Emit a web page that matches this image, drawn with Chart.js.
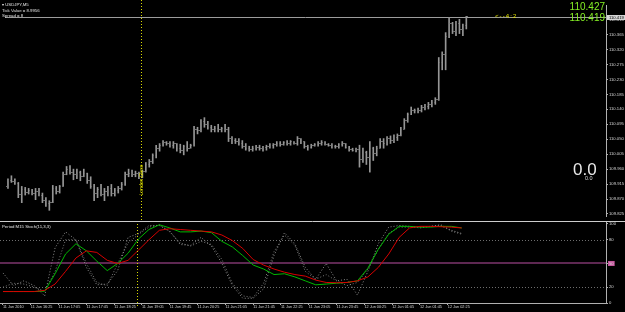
<!DOCTYPE html>
<html>
<head>
<meta charset="utf-8">
<script src="https://cdn.jsdelivr.net/npm/chart.js@4.4.1/dist/chart.umd.min.js"></script>
<style>
html, body { margin: 0; padding: 0; background: #000; }
#wrap { position: relative; width: 625px; height: 312px; overflow: hidden; background: #000; font-family: "Liberation Sans", Arial, sans-serif; }
canvas { position: absolute; left: 0; }
#main { top: 0; }
#sub { top: 221px; }
.t { position: absolute; white-space: nowrap; color: #e2e2e2; line-height: 1; }
</style>
</head>
<body>
<div id="wrap">
  <canvas id="main" width="625" height="221"></canvas>
  <canvas id="sub" width="625" height="91"></canvas>
  <div class="t" style="left:2px;top:2.5px;font-size:4.3px">&#9662; USDJPY,M5</div>
  <div class="t" style="left:2px;top:8.5px;font-size:4.3px">Tick Value = 8.9956</div>
  <div class="t" style="left:2px;top:14px;font-size:4.3px">Spread = 8</div>
  <div class="t" style="right:20px;top:2px;font-size:10px;color:#84ee24">110.427</div>
  <div class="t" style="right:20px;top:13px;font-size:10px;color:#84ee24">110.419</div>
  <div class="t" style="left:495px;top:12.5px;font-size:6px;letter-spacing:1.1px;color:#e0e000">&lt;--4:2</div>
  <div class="t" style="left:573px;top:160.5px;font-size:17px;color:#e8e8e8">0.0</div>
  <div class="t" style="left:585px;top:175.5px;font-size:5.5px;color:#d8d8d8">0.0</div>
  <div class="t" style="left:140.5px;top:180px;font-size:5px;color:#e0e000;transform:translate(-50%,-50%) rotate(-90deg)">London Close</div>
  <div class="t" style="left:2px;top:224.5px;font-size:4.3px">Period M15 Stoch(11,3,3)</div>
</div>
<script>
// USDJPY M5 bars, bar index 0 = 11 Jun 15:45
const barOpen = [109.908,109.925,109.922,109.917,109.885,109.899,109.891,109.897,109.888,109.894,
  109.882,109.865,109.856,109.859,109.902,109.894,109.908,109.945,109.960,109.951,
  109.943,109.951,109.937,109.948,109.925,109.908,109.888,109.899,109.885,109.894,
  109.902,109.888,109.897,109.902,109.914,109.945,109.948,109.943,109.948,109.940,
  109.954,109.974,109.983,110.000,110.023,110.032,110.040,110.037,110.032,110.037,
  110.023,110.017,110.029,110.023,110.032,110.080,110.075,110.104,110.095,110.086,
  110.080,110.083,110.078,110.083,110.080,110.052,110.046,110.043,110.037,110.029,
  110.023,110.020,110.023,110.026,110.023,110.026,110.029,110.032,110.035,110.037,
  110.035,110.040,110.037,110.043,110.037,110.052,110.043,110.029,110.026,110.032,
  110.035,110.037,110.040,110.035,110.032,110.029,110.029,110.035,110.037,110.026,
  110.020,110.017,110.020,109.989,110.009,109.994,110.023,110.006,110.023,110.043,
  110.037,110.052,110.046,110.055,110.060,110.080,110.106,110.124,110.138,110.135,
  110.138,110.147,110.150,110.155,110.161,110.170,110.282,110.305,110.359,110.397,
  110.374,110.397,110.379,110.391];
const barHigh = [109.931,109.940,109.931,109.920,109.908,109.905,109.902,109.899,109.902,109.902,
  109.888,109.874,109.865,109.911,109.908,109.911,109.951,109.968,109.971,109.960,
  109.960,109.954,109.960,109.948,109.937,109.914,109.905,109.914,109.902,109.908,
  109.914,109.902,109.908,109.920,109.951,109.960,109.957,109.954,109.951,109.957,
  109.980,109.989,110.006,110.032,110.037,110.046,110.043,110.043,110.043,110.037,
  110.035,110.032,110.043,110.035,110.089,110.086,110.109,110.115,110.104,110.092,
  110.089,110.095,110.086,110.095,110.086,110.058,110.052,110.052,110.046,110.037,
  110.029,110.029,110.032,110.032,110.029,110.032,110.037,110.037,110.043,110.043,
  110.043,110.046,110.046,110.043,110.058,110.052,110.043,110.032,110.035,110.037,
  110.043,110.046,110.043,110.037,110.037,110.032,110.037,110.043,110.037,110.029,
  110.023,110.023,110.032,110.023,110.014,110.043,110.026,110.029,110.052,110.052,
  110.058,110.060,110.063,110.066,110.086,110.112,110.129,110.147,110.141,110.144,
  110.152,110.155,110.161,110.167,110.175,110.296,110.313,110.371,110.417,110.402,
  110.405,110.411,110.397,110.420];
const barLow = [109.902,109.920,109.914,109.874,109.859,109.882,109.885,109.882,109.868,109.879,
  109.859,109.848,109.836,109.859,109.885,109.888,109.908,109.943,109.945,109.928,
  109.931,109.925,109.937,109.917,109.902,109.865,109.874,109.879,109.865,109.879,
  109.879,109.879,109.888,109.897,109.911,109.937,109.937,109.937,109.931,109.934,
  109.951,109.966,109.977,109.994,110.014,110.029,110.032,110.026,110.023,110.014,
  110.009,110.003,110.014,110.023,110.029,110.066,110.072,110.086,110.080,110.072,
  110.072,110.072,110.072,110.072,110.043,110.037,110.037,110.032,110.023,110.017,
  110.014,110.014,110.017,110.017,110.014,110.017,110.023,110.023,110.029,110.029,
  110.032,110.032,110.032,110.035,110.032,110.037,110.023,110.017,110.023,110.029,
  110.029,110.032,110.032,110.029,110.023,110.023,110.023,110.029,110.023,110.014,
  110.014,110.012,109.966,109.980,109.974,109.951,109.986,110.000,110.023,110.023,
  110.032,110.037,110.040,110.046,110.060,110.080,110.101,110.124,110.129,110.129,
  110.132,110.138,110.141,110.147,110.155,110.167,110.259,110.259,110.356,110.368,
  110.362,110.368,110.362,110.382];
const barClose = [109.925,109.922,109.917,109.885,109.899,109.891,109.897,109.888,109.894,109.882,
  109.865,109.856,109.859,109.902,109.894,109.908,109.945,109.960,109.951,109.943,
  109.951,109.937,109.948,109.925,109.908,109.888,109.899,109.885,109.894,109.902,
  109.888,109.897,109.902,109.914,109.945,109.948,109.943,109.948,109.940,109.954,
  109.974,109.983,110.000,110.023,110.032,110.040,110.037,110.032,110.037,110.023,
  110.017,110.029,110.023,110.032,110.080,110.075,110.104,110.095,110.086,110.080,
  110.083,110.078,110.083,110.080,110.052,110.046,110.043,110.037,110.029,110.023,
  110.020,110.023,110.026,110.023,110.026,110.029,110.032,110.035,110.037,110.035,
  110.040,110.037,110.043,110.037,110.052,110.043,110.029,110.026,110.032,110.035,
  110.037,110.040,110.035,110.032,110.029,110.029,110.035,110.037,110.026,110.020,
  110.017,110.020,109.989,110.009,109.994,110.023,110.006,110.023,110.043,110.037,
  110.052,110.046,110.055,110.060,110.080,110.106,110.124,110.138,110.135,110.138,
  110.147,110.150,110.155,110.161,110.170,110.282,110.305,110.359,110.397,110.374,
  110.397,110.379,110.391,110.420];

const priceTicks = [110.410,110.365,110.320,110.275,110.230,110.185,110.140,110.095,110.050,110.005,109.960,109.915,109.870,109.825];
const bidPrice = 110.419;
const londonCloseIdx = 38.6;

// stochastic, sampled every 3 bars
const stochIdx = [0,3,6,9,12,15,18,21,24,27,30,33,36,39,42,45,48,51,54,57,60,63,66,69,72,75,78,81,84,87,90,93,96,99,102,105,108,111,114,117,120,123,126,129,132];
const stochMain = [14.5,14.5,14.5,14.5,15,37,62,75,66,53,41,50,63,81,93,99,95,90,90,91,89,78,71,60,48,43,36,37,33,28,23,24,25,26,28,44,68,87,97,97,96,96,97,97,95];
const stochSignal = [14.5,14.5,14.5,14.5,16,24,40,57,66,64,54,50,54,67,80,92,94,93,92,91,90,86,79,69,55,48,43,39,36,34,29,26,25.6,26,28,33,45,62,83,95,97,97,96.5,96,95];
const fastMain = [38,22,28,22,9,70,90,80,45,23,24,41,83,88,98,98,91,74,73,83,72,50,22,6,6,18,60,89,75,45,30,50,28,30,10,40,75,96,98,97,95,97,99,92,88];
const fastSignal = [20,25,24,20,15,40,80,80,50,26,22,50,76,87,96,99,90,76,72,78,74,55,25,9,7,25,65,86,73,40,30,36,28,22,26,43,68,88,96,96,96,97,98,91,87];
const stochTicks = [100,80,50,20,0];
const timeLabels = ["11 Jun 2010","11 Jun 16:25","11 Jun 17:05","11 Jun 17:45","11 Jun 18:25","11 Jun 19:05",
  "11 Jun 19:45","11 Jun 20:25","11 Jun 21:05","11 Jun 21:45","11 Jun 22:25","11 Jun 23:05",
  "11 Jun 23:45","12 Jun 00:25","12 Jun 01:05","12 Jun 01:45","12 Jun 02:25"];
const barsPerLabel = 8;

const xMin = -0.863, xMax = 173.53;
const barColor = '#969696';
const tickColor = '#6e6e6e';
const axisColor = '#b0b0b0';
const labelFont = { family: '"Liberation Sans", Arial, sans-serif', size: 4.2 };

function tickImg(side) {
  const c = document.createElement('canvas');
  c.width = 3; c.height = 1;
  const g = c.getContext('2d');
  g.fillStyle = tickColor;
  g.fillRect(side === 'left' ? 0 : 2, 0, 1, 1);
  return c;
}

function londonLine(chart, top, bottom) {
  const { ctx, scales: { x } } = chart;
  const lx = Math.round(x.getPixelForValue(londonCloseIdx)) + 0.5;
  ctx.save();
  ctx.strokeStyle = '#d8d800';
  ctx.lineWidth = 1;
  ctx.setLineDash([1, 2]);
  ctx.beginPath(); ctx.moveTo(lx, top); ctx.lineTo(lx, bottom); ctx.stroke();
  ctx.restore();
}

const mainDecor = {
  id: 'mainDecor',
  beforeDatasetsDraw(chart) {
    const { ctx, chartArea: a, scales: { y } } = chart;
    const by = Math.round(y.getPixelForValue(bidPrice)) + 0.5;
    ctx.save();
    ctx.strokeStyle = '#9c9c9c';
    ctx.lineWidth = 1;
    ctx.beginPath(); ctx.moveTo(a.left, by); ctx.lineTo(a.right, by); ctx.stroke();
    ctx.restore();
  },
  afterDraw(chart) {
    const { ctx, chartArea: a, scales: { y } } = chart;
    londonLine(chart, 0, chart.height);
    const by = Math.round(y.getPixelForValue(bidPrice));
    ctx.save();
    ctx.fillStyle = '#d4d4d4';
    ctx.fillRect(a.right + 1, by - 2, 18, 5);
    ctx.fillStyle = '#000';
    ctx.font = '4.2px "Liberation Sans", Arial, sans-serif';
    ctx.textBaseline = 'middle';
    ctx.fillText(bidPrice.toFixed(3), a.right + 3, by + 0.5);
    ctx.restore();
  }
};

const subDecor = {
  id: 'subDecor',
  beforeDatasetsDraw(chart) {
    const { ctx, chartArea: a, scales: { y } } = chart;
    ctx.save();
    ctx.strokeStyle = '#6e6e6e';
    ctx.lineWidth = 1;
    ctx.setLineDash([1, 2]);
    [80, 20].forEach(v => {
      const ly = Math.round(y.getPixelForValue(v)) + 0.5;
      ctx.beginPath(); ctx.moveTo(a.left, ly); ctx.lineTo(a.right, ly); ctx.stroke();
    });
    ctx.setLineDash([]);
    ctx.strokeStyle = '#5e2852';
    ctx.lineWidth = 2;
    const my = Math.round(y.getPixelForValue(50));
    ctx.beginPath(); ctx.moveTo(a.left, my); ctx.lineTo(a.right, my); ctx.stroke();
    ctx.restore();
  },
  afterDraw(chart) {
    const { ctx, chartArea: a } = chart;
    londonLine(chart, 0, a.bottom + 3);
    ctx.save();
    ctx.strokeStyle = '#cccccc';
    ctx.lineWidth = 1;
    ctx.beginPath(); ctx.moveTo(0, 0.5); ctx.lineTo(chart.width, 0.5); ctx.stroke();
    ctx.restore();
  }
};

const ohlcBars = barHigh.map((h, i) => ({ x: i, y: [barLow[i], h] }));
const opens = barOpen.map((v, i) => ({ x: i, y: v }));
const closes = barClose.map((v, i) => ({ x: i, y: v }));

new Chart(document.getElementById('main'), {
  type: 'bar',
  data: {
    datasets: [
      { type: 'line', data: opens, showLine: false, pointStyle: tickImg('left'), pointRadius: 1 },
      { type: 'line', data: closes, showLine: false, pointStyle: tickImg('right'), pointRadius: 1 },
      { type: 'bar', data: ohlcBars, backgroundColor: barColor, barThickness: 1, grouped: false }
    ]
  },
  options: {
    responsive: false,
    animation: false,
    devicePixelRatio: 1,
    events: [],
    layout: { padding: 0 },
    plugins: { legend: { display: false }, tooltip: { enabled: false } },
    scales: {
      x: { type: 'linear', min: xMin, max: xMax, offset: false, display: false },
      y: {
        position: 'right',
        min: 109.8189, max: 110.4541,
        afterBuildTicks: s => { s.ticks = priceTicks.map(v => ({ value: v })); },
        afterFit: s => { s.width = 19; s.paddingTop = 0; s.paddingBottom = 0; },
        ticks: { color: '#d6d6d6', font: labelFont, padding: 1, autoSkip: false, callback: v => v.toFixed(3) },
        grid: { drawOnChartArea: false, color: axisColor, tickLength: 2 },
        border: { color: axisColor }
      }
    }
  },
  plugins: [mainDecor]
});

const pts = vals => vals.map((v, k) => ({ x: stochIdx[k], y: v }));

new Chart(document.getElementById('sub'), {
  type: 'line',
  data: {
    datasets: [
      { data: pts(stochSignal), borderColor: '#d80000', borderWidth: 1, pointRadius: 0 },
      { data: pts(stochMain), borderColor: '#00b800', borderWidth: 1, pointRadius: 0 },
      { data: pts(fastMain), borderColor: '#8c8c8c', borderWidth: 1, borderDash: [1, 2], pointRadius: 0 },
      { data: pts(fastSignal), borderColor: '#7c7c7c', borderWidth: 1, borderDash: [1, 2], pointRadius: 0 }
    ]
  },
  options: {
    responsive: false,
    animation: false,
    devicePixelRatio: 1,
    events: [],
    layout: { padding: { top: 1 } },
    plugins: { legend: { display: false }, tooltip: { enabled: false } },
    scales: {
      x: {
        type: 'linear', min: xMin, max: xMax, offset: false,
        afterBuildTicks: s => { s.ticks = timeLabels.map((t, k) => ({ value: k * barsPerLabel })); },
        afterFit: s => { s.height = 9; s.paddingLeft = 0; s.paddingRight = 0; },
        ticks: { color: '#d6d6d6', font: { family: labelFont.family, size: 3.8 }, padding: 0, align: 'start', maxRotation: 0, autoSkip: false, callback: (v, k) => timeLabels[k] },
        grid: { drawOnChartArea: false, color: axisColor, tickLength: 2 },
        border: { color: axisColor }
      },
      y: {
        position: 'right', min: 0, max: 102.5,
        afterBuildTicks: s => { s.ticks = stochTicks.map(v => ({ value: v })); },
        afterFit: s => { s.width = 19; s.paddingTop = 0; s.paddingBottom = 0; },
        ticks: {
          color: '#d6d6d6', font: labelFont, padding: 1, autoSkip: false,
          showLabelBackdrop: true,
          backdropPadding: { x: 1, y: 0 },
          backdropColor: c => (c.tick && c.tick.value === 50) ? '#c4549c' : 'rgba(0,0,0,0)'
        },
        grid: { drawOnChartArea: false, color: axisColor, tickLength: 2 },
        border: { color: axisColor }
      }
    }
  },
  plugins: [subDecor]
});
</script>
</body>
</html>
